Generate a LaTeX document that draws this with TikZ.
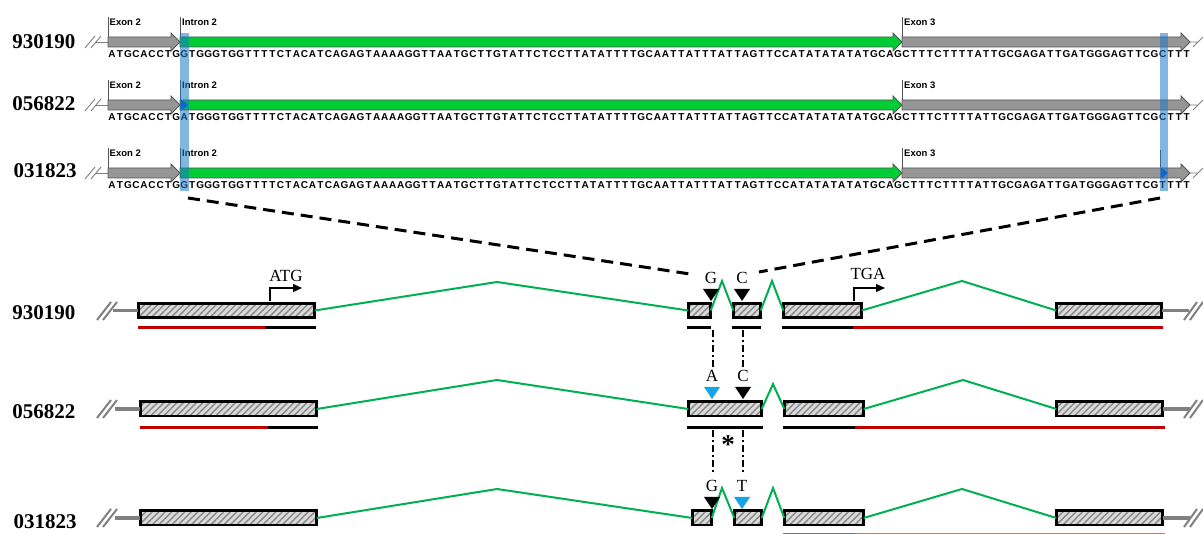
\documentclass[tikz,border=0pt]{standalone}
\usepackage{fontspec}
\setmainfont{Liberation Serif}
\newfontfamily\seqfont{Liberation Sans}
\usetikzlibrary{patterns.meta,arrows.meta}

\definecolor{seqgray}{RGB}{150,150,150}
\definecolor{seqedge}{RGB}{85,85,85}
\definecolor{seqgreen}{RGB}{0,204,51}
\definecolor{hlblue}{RGB}{30,120,200}
\definecolor{mkblue}{RGB}{0,80,220}
\definecolor{intgreen}{RGB}{0,176,80}
\definecolor{snpblue}{RGB}{20,165,230}
\definecolor{utrred}{RGB}{192,0,0}
\definecolor{brkgray}{RGB}{128,128,128}
\definecolor{boxbg}{RGB}{218,218,218}
\definecolor{hatch}{RGB}{135,135,135}

% exon 2 / intron 2 / exon 3 sequence; #1 = donor-site base, #2 = base in exon 3
\newcommand\dnaseq[2]{A,T,G,C,A,C,C,T,G,#1,T,G,G,G,T,G,G,T,T,T,T,C,T,A,C,A,T,C,A,G,A,G,T,A,A,A,A,G,G,T,T,A,A,T,G,C,T,T,G,T,A,T,T,C,T,C,C,T,T,A,T,A,T,T,T,T,G,C,A,A,T,T,A,T,T,T,A,T,T,A,G,T,T,C,C,A,T,A,T,A,T,A,T,A,T,G,C,A,G,C,T,T,T,C,T,T,T,T,A,T,T,G,C,G,A,G,A,T,T,G,A,T,G,G,G,A,G,T,T,C,G,#2,T,T,T}

% one annotated sequence track: #1 name prefix, #2 centre y, #3 and #4 variable bases
\newcommand\seqtrack[4]{%
  \draw[brk] (85,#2+6) -- (95,#2-6) (91,#2+6) -- (101,#2-6);
  \draw[brk] (96,#2) -- (108,#2);
  \draw[featline, fill=seqgray] (108,#2-5) -- (171,#2-5) -- (171,#2-9) -- (180,#2) -- (171,#2+9) -- (171,#2+5) -- (108,#2+5) -- cycle;
  \draw[featline, fill=seqgreen] (180,#2-5) -- (893,#2-5) -- (893,#2-9) -- (902,#2) -- (893,#2+9) -- (893,#2+5) -- (180,#2+5) -- cycle;
  \draw[featline, fill=seqgray] (902,#2-5) -- (1181,#2-5) -- (1181,#2-9) -- (1190,#2) -- (1181,#2+9) -- (1181,#2+5) -- (902,#2+5) -- cycle;
  \draw[brk] (1190,#2) -- (1197,#2) (1193,#2+5) -- (1203,#2-5);
  \draw[tick] (108,#2-25) -- (108,#2-5) (180.5,#2-25) -- (180.5,#2-5) (902.5,#2-25) -- (902.5,#2-5);
  \node[feat] (#1e2) at (109.5,#2-20) {Exon 2};
  \node[feat] (#1i2) at (182,#2-20) {Intron 2};
  \node[feat] (#1e3) at (904,#2-20) {Exon 3};
  \edef\curseq{\dnaseq{#3}{#4}}%
  \foreach \c [count=\i from 0] in \curseq {\node[nt] (#1n\i) at ({112+8.02*\i},#2+11.5) {\c};}
}

% hatched exon box: name, left x, right x, centre y
\newcommand\exon[4]{\node[exon, minimum width={(#3-#2-2.6)*1pt}] (#1) at ({(#2+#3)/2},#4) {};}

% variant marker: name, x, top y, base, colour
\newcommand\snp[5]{%
  \fill[#5] (#2-8,#3) -- (#2+8,#3) -- (#2,#3+12) -- cycle;
  \node[base] (#1) at (#2,#3-11) {#4};}

\begin{document}
\begin{tikzpicture}[x=1pt,y=-1pt,
  lbl/.style={font=\fontsize{21}{21}\selectfont\bfseries, inner sep=0},
  nt/.style={font=\seqfont\bfseries\fontsize{10}{10}\selectfont, inner sep=0, text height=7.2pt, text depth=0pt},
  feat/.style={font=\seqfont\bfseries\fontsize{9.5}{9.5}\selectfont, inner sep=0, anchor=west},
  featline/.style={draw=seqedge, line width=0.8pt},
  tick/.style={draw=seqedge, line width=0.8pt},
  brk/.style={draw=brkgray, line width=0.9pt},
  exon/.style={preaction={fill=boxbg},
    preaction={pattern={Lines[angle=45,distance=4.6pt,line width=1.4pt]}, pattern color=hatch},
    draw=black, line width=2.6pt,
    inner sep=0, outer sep=0, minimum height=14.4pt},
  intron/.style={draw=intgreen, line width=2pt},
  utr/.style={line width=3pt},
  gap/.style={draw=brkgray, line width=3.5pt},
  gapslash/.style={draw=brkgray, line width=2pt},
  zoomline/.style={draw=black, line width=3pt, dash pattern=on 12pt off 7pt},
  aligned/.style={draw=black, line width=1.6pt, dash pattern=on 7pt off 3pt on 2pt off 3pt},
  base/.style={font=\fontsize{17}{17}\selectfont, inner sep=0},
  startarrow/.style={draw=black, line width=1.3pt, -{Triangle[length=9pt,width=8pt]}}
]
\useasboundingbox (0,0) rectangle (1203,534);

% ---------- sequence tracks ----------
\node[lbl] (t1) at (44,42) {930190};
\node[lbl] (t2) at (44,104) {056822};
\node[lbl] (t3) at (45,171) {031823};

\seqtrack{r1}{42}{G}{C}
\seqtrack{r2}{105}{A}{C}
\seqtrack{r3}{173}{G}{T}

% variant flags
\fill[mkblue] (180.5,99) -- (188,105) -- (180.5,111) -- cycle;
\draw[tick] (1160.5,150) -- (1160.5,167);
\fill[mkblue] (1160.5,167) -- (1168,173) -- (1160.5,179) -- cycle;

% highlighted columns
\fill[hlblue, opacity=0.55] (180,33) rectangle (189,191);
\fill[hlblue, opacity=0.55] (1160,33) rectangle (1168,191);

% zoom lines
\coordinate (zl0) at (188,198);
\coordinate (zl1) at (690,274);
\coordinate (zr0) at (1160,198);
\coordinate (zr1) at (759,272);
\draw[zoomline] (zl0) -- (zl1);
\draw[zoomline] (zr0) -- (zr1);

% ---------- gene models ----------
\node[lbl] (g1) at (44,313) {930190};
\node[lbl] (g2) at (44,412) {056822};
\node[lbl] (g3) at (45,522) {031823};

% start and stop codons
\draw[startarrow] (270,301) |- (302,288);
\node[base] (atg) at (286,276) {ATG};
\draw[startarrow] (854,301) |- (885,288);
\node[base] (tga) at (868,274) {TGA};

% row 1
\exon{A1}{137}{316}{310.5}
\exon{A2}{687}{712}{310.5}
\exon{A3}{732}{762}{310.5}
\exon{A4}{782}{863}{310.5}
\exon{A5}{1055}{1163}{310.5}
\draw[intron] (A1.east) -- (497,282) -- (A2.west);
\draw[intron] (A2.east) -- (722,281) -- (A3.west);
\draw[intron] (A3.east) -- (772,281) -- (A4.west);
\draw[intron] (A4.east) -- (962,281) -- (A5.west);
\draw[gap] (A1.west) -- ++(-25,0);
\draw[gapslash] (97,320) -- (111,302) (103,320) -- (117,302);
\draw[gap] (A5.east) -- ++(27,0);
\draw[gapslash] (1184,320) -- (1197,302) (1190,320) -- (1203,302);

% row 2
\exon{B1}{139}{318}{409}
\exon{B2}{687}{763}{409}
\exon{B4}{783}{865}{409}
\exon{B5}{1055}{1164}{409}
\draw[intron] (B1.east) -- (497,380) -- (B2.west);
\draw[intron] (B2.east) -- (773,384) -- (B4.west);
\draw[intron] (B4.east) -- (963,380) -- (B5.west);
\draw[gap] (B1.west) -- ++(-25,0);
\draw[gapslash] (97,418) -- (111,400) (103,418) -- (117,400);
\draw[gap] (B5.east) -- ++(27,0);
\draw[gapslash] (1184,418) -- (1197,400) (1190,418) -- (1203,400);

% row 3
\exon{C1}{139}{318}{518}
\exon{C2}{691}{713}{518}
\exon{C3}{733}{763}{518}
\exon{C4}{783}{865}{518}
\exon{C5}{1055}{1164}{518}
\draw[intron] (C1.east) -- (497,489) -- (C2.west);
\draw[intron] (C2.east) -- (722,488) -- (C3.west);
\draw[intron] (C3.east) -- (773,488) -- (C4.west);
\draw[intron] (C4.east) -- (962,489) -- (C5.west);
\draw[gap] (C1.west) -- ++(-25,0);
\draw[gapslash] (97,527) -- (111,509) (103,527) -- (117,509);
\draw[gap] (C5.east) -- ++(27,0);
\draw[gapslash] (1184,527) -- (1197,509) (1190,527) -- (1203,509);

% UTR / CDS bars
\draw[utr, utrred] (138,328) -- (265,328);
\draw[utr, black] (265,328) -- (316,328);
\draw[utr, black] (687,328) -- (711,328);
\draw[utr, black] (732,328) -- (761,328);
\draw[utr, black] (782,328) -- (853,328);
\draw[utr, utrred] (853,328) -- (1163,328);

\draw[utr, utrred] (140,427.5) -- (268,427.5);
\draw[utr, black] (268,427.5) -- (318,427.5);
\draw[utr, black] (687,427.5) -- (763,427.5);
\draw[utr, black] (783,427.5) -- (855,427.5);
\draw[utr, utrred] (855,427.5) -- (1165,427.5);

\draw[utr, black!55] (783,535) -- (855,535);
\draw[utr, utrred!55] (855,535) -- (1165,535);

% variant sites
\snp{gA}{711}{289}{G}{black}
\snp{cA}{742}{289}{C}{black}
\snp{aB}{712}{387}{A}{snpblue}
\snp{cB}{743}{387}{C}{black}
\snp{gC}{712}{497}{G}{black}
\snp{tC}{742}{497}{T}{snpblue}

% alignment guides
\coordinate (v1a) at (713,330); \coordinate (v1b) at (713,367);
\coordinate (v2a) at (743,330); \coordinate (v2b) at (743,367);
\coordinate (v3a) at (713,430); \coordinate (v3b) at (713,473);
\coordinate (v4a) at (743,430); \coordinate (v4b) at (743,473);
\draw[aligned] (v1a) -- (v1b);
\draw[aligned] (v2a) -- (v2b);
\draw[aligned] (v3a) -- (v3b);
\draw[aligned] (v4a) -- (v4b);
\node[font=\fontsize{27}{27}\selectfont\bfseries, inner sep=0, anchor=base] (star) at (728,454) {*};
\end{tikzpicture}
\end{document}
